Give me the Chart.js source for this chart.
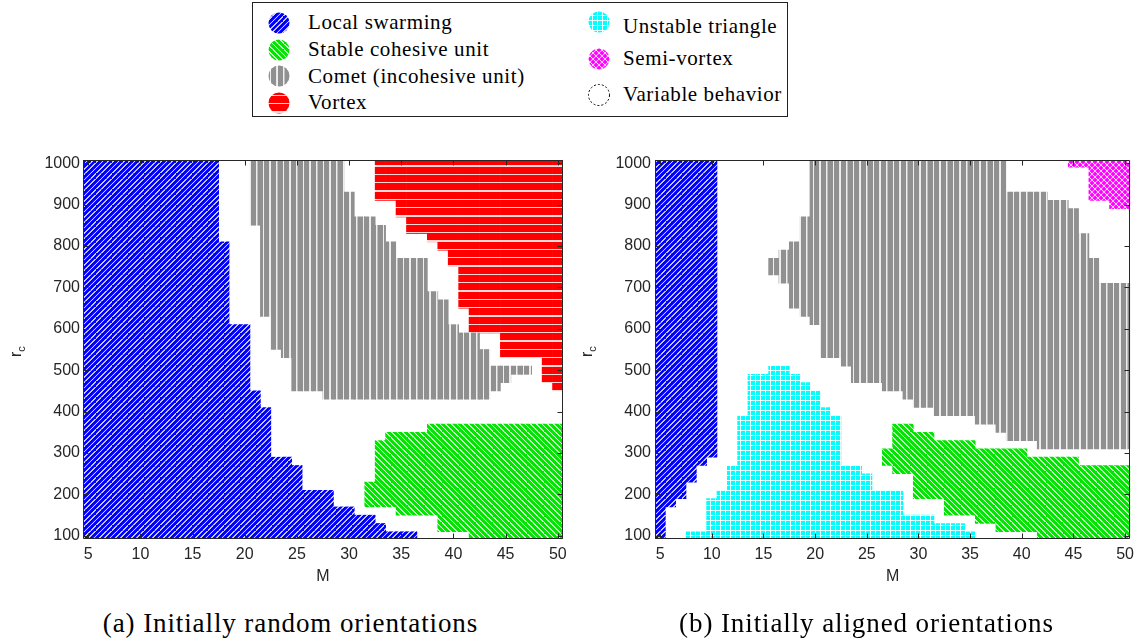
<!DOCTYPE html>
<html><head><meta charset="utf-8">
<script src="https://cdn.jsdelivr.net/npm/chart.js@4.4.0/dist/chart.umd.min.js"></script>
<style>
html,body{margin:0;padding:0;background:#fff;}
body{width:1140px;height:642px;position:relative;overflow:hidden;}
.cv{position:absolute;}
#legend{position:absolute;left:252px;top:2px;width:534px;height:113px;border:1px solid #222;background:#fff;}
.lt{position:absolute;font-family:"Liberation Serif",serif;font-size:21px;letter-spacing:0.6px;color:#000;white-space:nowrap;height:24px;line-height:24px;}
.ls{position:absolute;}
.cap{position:absolute;top:610px;font-family:"Liberation Serif",serif;font-size:27px;letter-spacing:0.9px;line-height:27px;text-align:center;color:#000;white-space:nowrap;}
</style></head><body>
<div id="legend"></div>
<canvas id="ca" class="cv" width="600" height="480" style="left:0;top:120px"></canvas>
<canvas id="cb" class="cv" width="570" height="480" style="left:570px;top:120px"></canvas>
<div class="cap" style="left:0;width:581px">(a) Initially random orientations</div>
<div class="cap" style="left:620px;width:493px">(b) Initially aligned orientations</div>
<script>
// ---------- data ----------
const mValues = [5,6,7,8,9,10,11,12,13,14,15,16,17,18,19,20,21,22,23,24,25,26,27,28,29,30,31,32,33,34,35,36,37,38,39,40,41,42,43,44,45,46,47,48,49,50];
const mTicks = [5,10,15,20,25,30,35,40,45,50];
const rTicks = [100,200,300,400,500,600,700,800,900,1000];
const rStep = 20; // r_c grid spacing

// (a) initially random orientations: lowest / highest r_c cell of each regime per M
const aSwarmLo = [100,100,100,100,100,100,100,100,100,100, 100,100,100,100,100,100,100,100,100,100, 100,100,100,100,100,100,100,100,100,100, 100,100,null,null,null,null,null,null,null,null, null,null,null,null,null,null];
const aSwarmHi = [1000,1000,1000,1000,1000,1000,1000,1000,1000,1000, 1000,1000,1000,800,600,600,440,400,280,280, 260,200,200,200,160,160,140,140,120,100, 100,100,null,null,null,null,null,null,null,null, null,null,null,null,null,null];
const aCometLo = [null,null,null,null,null,null,null,null,null,null, null,null,null,null,null,null,860,640,560,540, 460,460,460,440,440,440,440,440,440,440, 440,440,440,440,440,440,440,440,440,460, 480,500,500,null,null,null];
const aCometHi = [null,null,null,null,null,null,null,null,null,null, null,null,null,null,null,null,1000,1000,1000,1000, 1000,1000,1000,1000,1000,920,860,860,840,800, 760,760,760,680,660,600,580,580,540,500, 500,500,500,null,null,null];
const aVortexLo = [null,null,null,null,null,null,null,null,null,null, null,null,null,null,null,null,null,null,null,null, null,null,null,null,null,null,null,null,920,920, 880,840,840,820,800,760,660,600,600,600, 540,540,540,540,480,460];
const aVortexHi = [null,null,null,null,null,null,null,null,null,null, null,null,null,null,null,null,null,null,null,null, null,null,null,null,null,null,null,null,1000,1000, 1000,1000,1000,1000,1000,1000,1000,1000,1000,1000, 1000,1000,1000,1000,1000,1000];
const aStableLo = [null,null,null,null,null,null,null,null,null,null, null,null,null,null,null,null,null,null,null,null, null,null,null,null,null,null,null,180,180,180, 160,160,160,160,120,120,120,100,100,100, 100,100,100,100,100,100];
const aStableHi = [null,null,null,null,null,null,null,null,null,null, null,null,null,null,null,null,null,null,null,null, null,null,null,null,null,null,null,220,320,340, 340,340,340,360,360,360,360,360,360,360, 360,360,360,360,360,360];

// (b) initially aligned orientations
const bSwarmLo = [100,180,200,240,280,300,null,null,null,null, null,null,null,null,null,null,null,null,null,null, null,null,null,null,null,null,null,null,null,null, null,null,null,null,null,null,null,null,null,null, null,null,null,null,null,null];
const bSwarmHi = [1000,1000,1000,1000,1000,1000,null,null,null,null, null,null,null,null,null,null,null,null,null,null, null,null,null,null,null,null,null,null,null,null, null,null,null,null,null,null,null,null,null,null, null,null,null,null,null,null];
const bCometLo = [null,null,null,null,null,null,null,null,null,null, null,740,720,660,640,620,540,540,520,480, 480,480,460,460,440,420,420,400,400,400, 400,380,380,360,340,340,340,320,320,320, 320,320,320,320,320,320];
const bCometHi = [null,null,null,null,null,null,null,null,null,null, null,760,780,800,860,1000,1000,1000,1000,1000, 1000,1000,1000,1000,1000,1000,1000,1000,1000,1000, 1000,1000,1000,1000,920,920,920,920,900,900, 880,820,760,700,700,700];
const bTriangleLo = [null,null,null,100,100,100,100,100,100,100, 100,100,100,100,100,100,100,100,100,100, 100,100,100,100,100,100,100,100,100,100, 100,null,null,null,null,null,null,null,null,null, null,null,null,null,null,null];
const bTriangleHi = [null,null,null,100,100,180,200,260,380,480, 480,500,500,480,460,440,400,380,260,260, 240,200,200,200,140,140,140,120,120,120, 100,null,null,null,null,null,null,null,null,null, null,null,null,null,null,null];
const bStableLo = [null,null,null,null,null,null,null,null,null,null, null,null,null,null,null,null,null,null,null,null, null,null,280,260,260,200,200,200,160,160, 160,140,140,120,120,120,120,100,100,100, 100,100,100,100,100,100];
const bStableHi = [null,null,null,null,null,null,null,null,null,null, null,null,null,null,null,null,null,null,null,null, null,null,300,360,360,340,340,320,320,320, 320,300,300,300,300,300,280,280,280,280, 280,260,260,260,260,260];
const bSemiLo = [null,null,null,null,null,null,null,null,null,null, null,null,null,null,null,null,null,null,null,null, null,null,null,null,null,null,null,null,null,null, null,null,null,null,null,null,null,null,null,null, 1000,1000,920,920,900,900];
const bSemiHi = [null,null,null,null,null,null,null,null,null,null, null,null,null,null,null,null,null,null,null,null, null,null,null,null,null,null,null,null,null,null, null,null,null,null,null,null,null,null,null,null, 1000,1000,1000,1000,1000,1000];

const legendNames = ['Local swarming','Stable cohesive unit','Comet (incohesive unit)','Vortex','Unstable triangle','Semi-vortex','Variable behavior'];
const legendKinds = ['swarm','stable','comet','vortex','triangle','semi','variable'];

// ---------- patterns ----------
function makePattern(kind, ctx) {
  const S = 3;
  const specs = {
    swarm:   {w:16, h:16, bg:'#0000ff'},
    stable:  {w:17, h:17, bg:'#00e400'},
    comet:   {w:20, h:20, bg:'#909090'},
    vortex:  {w:25, h:25, bg:'#ff0000'},
    triangle:{w:15, h:15, bg:'#00ffff'},
    semi:    {w:18, h:18, bg:'#ff00ff'}
  };
  const sp = specs[kind];
  const c = document.createElement('canvas');
  c.width = sp.w; c.height = sp.h;
  const g = c.getContext('2d');
  g.fillStyle = sp.bg; g.fillRect(0,0,sp.w,sp.h);
  g.strokeStyle = 'rgba(255,255,255,0.8)';
  g.fillStyle = 'rgba(255,255,255,0.85)';
  const W = sp.w, H = sp.h;
  if (kind === 'swarm') {
    g.lineWidth = 3.5; g.beginPath();
    for (let k=-1;k<=1;k++){ g.moveTo(k*W, H); g.lineTo(k*W+W, 0); }
    g.stroke();
  } else if (kind === 'stable') {
    g.lineWidth = 3.5; g.beginPath();
    for (let k=-1;k<=1;k++){ g.moveTo(k*W, 0); g.lineTo(k*W+W, H); }
    g.stroke();
  } else if (kind === 'comet') {
    g.fillRect(8,0,4.5,H);
  } else if (kind === 'vortex') {
    g.fillRect(0,11,W,4);
  } else if (kind === 'triangle') {
    g.fillStyle = 'rgba(255,255,255,0.9)';
    g.fillRect(0,0,W,3); g.fillRect(0,0,3,H);
  } else if (kind === 'semi') {
    g.lineWidth = 3.5; g.beginPath();
    for (let k=-1;k<=1;k++){ g.moveTo(k*W, H); g.lineTo(k*W+W, 0); g.moveTo(k*W,0); g.lineTo(k*W+W,H); }
    g.stroke();
  }
  const p = ctx.createPattern(c, 'repeat');
  p.setTransform(new DOMMatrix().scale(1/S));
  return p;
}

// ---------- legend ----------
const legendLayout = [ // circle cx, circle cy, text x, text cy (page coords)
  [279,23,308,22],[279,50,308,49],[279,76,308,76],[279,103,308,102],
  [599,22,623,26],[599,59,623,58],[599,95,623,94]];
(function buildLegend(){
  const lg = document.getElementById('legend');
  legendNames.forEach((name,i)=>{
    const [cx,cy,tx,ty] = legendLayout[i];
    const cv = document.createElement('canvas');
    cv.width = 24; cv.height = 24; cv.className='ls';
    cv.style.left = (cx-12-253)+'px'; cv.style.top = (cy-12-3)+'px';
    const g = cv.getContext('2d');
    g.beginPath(); g.arc(12,12,10.5,0,Math.PI*2);
    if (legendKinds[i] === 'variable') {
      g.setLineDash([2,2]); g.strokeStyle='#000'; g.lineWidth=1; g.stroke();
    } else {
      g.fillStyle = makePattern(legendKinds[i], g); g.fill();
    }
    lg.appendChild(cv);
    const t = document.createElement('div');
    t.className='lt'; t.textContent = name;
    t.style.left = (tx-253)+'px'; t.style.top = (ty-12-3)+'px';
    lg.appendChild(t);
  });
})();

// ---------- charts ----------
function cells(lo, hi) {
  return mValues.map((m,i)=> lo[i]==null ? null : {x:m, y:[lo[i]-rStep/2, hi[i]+rStep/2]}).filter(Boolean);
}
const AXC = '#262626';
const framePlugin = {
  id:'frame',
  afterDatasetsDraw(chart){
    const {ctx, chartArea:a, scales:{x,y}} = chart;
    ctx.save();
    ctx.strokeStyle = AXC; ctx.lineWidth = 1;
    const L = Math.round(a.left)+0.5, R = Math.round(a.right)-0.5, T = Math.round(a.top)+0.5, B = Math.round(a.bottom)-0.5;
    ctx.beginPath();
    ctx.rect(L, T, R-L, B-T);
    mTicks.forEach(v=>{ const px = Math.round(x.getPixelForValue(v))+0.5;
      ctx.moveTo(px,B); ctx.lineTo(px,B-5); ctx.moveTo(px,T); ctx.lineTo(px,T+5); });
    rTicks.forEach(v=>{ const py = Math.round(y.getPixelForValue(v))+0.5;
      ctx.moveTo(L,py); ctx.lineTo(L+5,py); ctx.moveTo(R,py); ctx.lineTo(R-5,py); });
    ctx.stroke();
    ctx.restore();
  }
};
const yTitlePlugin = {
  id:'ytitle',
  afterDraw(chart, args, opts){
    const {ctx} = chart;
    ctx.save();
    ctx.translate(opts.x, opts.y);
    ctx.rotate(-Math.PI/2);
    ctx.fillStyle = AXC;
    ctx.textBaseline = 'alphabetic';
    ctx.font = '16px "Liberation Sans", Arial, sans-serif';
    ctx.fillText('r', 0, 0);
    const w = ctx.measureText('r').width;
    ctx.font = '11px "Liberation Sans", Arial, sans-serif';
    ctx.fillText('c', w, 4);
    ctx.restore();
  }
};

function makeChart(id, regions, o) {
  const canvas = document.getElementById(id);
  const ctx = canvas.getContext('2d');
  const datasets = regions.map(r=>({
    label: r.name, data: cells(r.lo, r.hi),
    backgroundColor: makePattern(r.kind, ctx), borderWidth: 0
  }));
  const tickFont = {family:'"Liberation Sans", Arial, sans-serif', size:16};
  return new Chart(canvas, {
    type:'bar',
    data:{datasets},
    options:{
      responsive:false, animation:false, devicePixelRatio:1, events:[],
      layout:{padding:{left:0,right:o.padRight,top:40,bottom:0}, autoPadding:false},
      plugins:{legend:{display:false}, tooltip:{enabled:false}, ytitle:{x:o.titleX, y:237}},
      datasets:{bar:{grouped:false, barPercentage:1, categoryPercentage:1, borderWidth:0}},
      scales:{
        x:{type:'linear', min:4.5, max:50.5, offset:false,
           grid:{display:false, drawTicks:false}, border:{display:false},
           afterBuildTicks:s=>{ s.ticks = mTicks.map(v=>({value:v})); },
           ticks:{font:tickFont, color:AXC, padding:6, maxRotation:0, autoSkip:false, callback:v=>String(v)},
           title:{display:true, text:'M', font:tickFont, color:AXC, padding:{top:0,bottom:14}},
           afterFit:s=>{ s.height = 61; }},
        y:{type:'linear', min:92.5, max:1007.5,
           grid:{display:false, drawTicks:false}, border:{display:false},
           afterBuildTicks:s=>{ s.ticks = rTicks.map(v=>({value:v})); },
           ticks:{font:tickFont, color:AXC, padding:o.yPad, autoSkip:false, callback:v=>String(v)},
           afterFit:s=>{ s.width = o.yWidth; }}
      }
    },
    plugins:[framePlugin, yTitlePlugin]
  });
}

makeChart('ca', [
  {name:'Local swarming', kind:'swarm', lo:aSwarmLo, hi:aSwarmHi},
  {name:'Comet (incohesive unit)', kind:'comet', lo:aCometLo, hi:aCometHi},
  {name:'Vortex', kind:'vortex', lo:aVortexLo, hi:aVortexHi},
  {name:'Stable cohesive unit', kind:'stable', lo:aStableLo, hi:aStableHi}
], {padRight:37, yWidth:83, yPad:3, titleX:21});

makeChart('cb', [
  {name:'Local swarming', kind:'swarm', lo:bSwarmLo, hi:bSwarmHi},
  {name:'Comet (incohesive unit)', kind:'comet', lo:bCometLo, hi:bCometHi},
  {name:'Unstable triangle', kind:'triangle', lo:bTriangleLo, hi:bTriangleHi},
  {name:'Stable cohesive unit', kind:'stable', lo:bStableLo, hi:bStableHi},
  {name:'Semi-vortex', kind:'semi', lo:bSemiLo, hi:bSemiHi}
], {padRight:4, yWidth:85, yPad:4, titleX:22});
</script>
</body></html>
